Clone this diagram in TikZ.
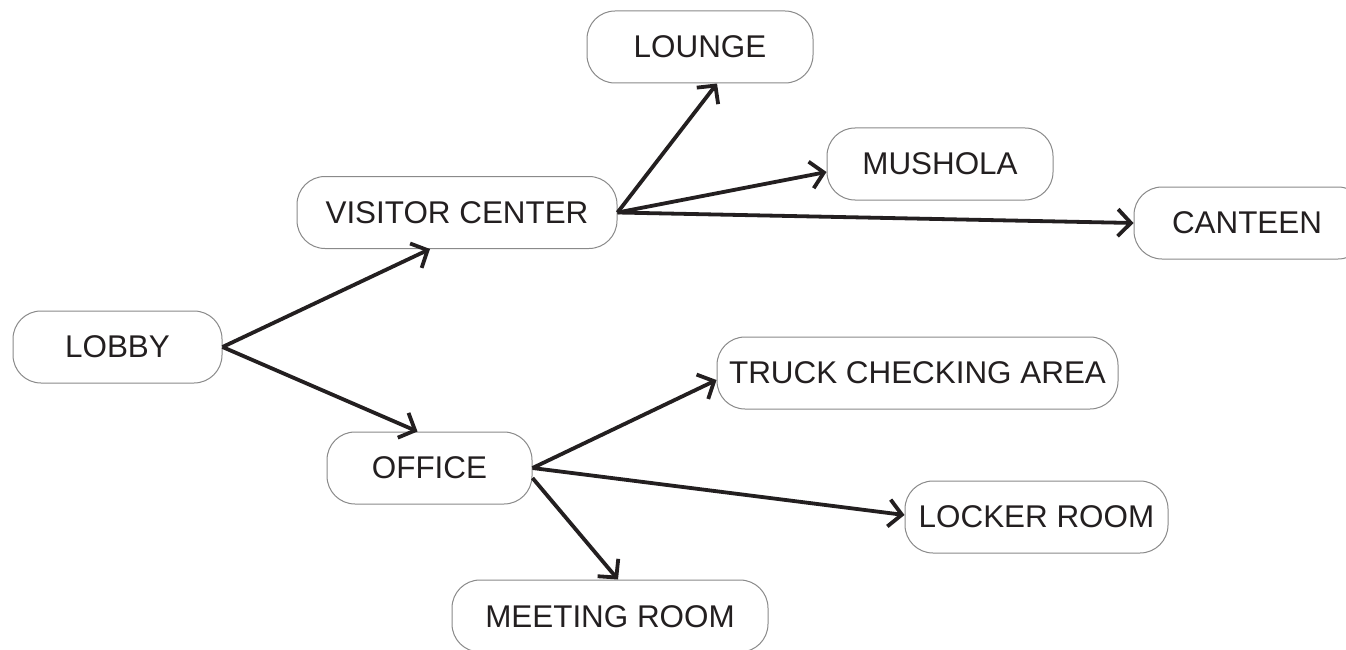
\documentclass[tikz,border=0pt]{standalone}
\usepackage{fontspec}
\setmainfont{Liberation Sans}
\usetikzlibrary{arrows.meta}
\definecolor{ink}{HTML}{231F20}
\definecolor{edge}{HTML}{8A8A8A}
\begin{document}
\begin{tikzpicture}[x=1pt,y=-1pt,
  box/.style={draw=edge, line width=1pt, rounded corners=28pt, fill=white,
    text=ink, font=\fontsize{31.4}{36}\selectfont, inner sep=0pt, minimum height=72pt},
  link/.style={draw=ink, line width=3.8pt, -{Straight Barb[length=13pt,width=27pt,line width=3.8pt]}}]
\fill[white] (0,0) rectangle (1346,650);
\useasboundingbox (0,0) rectangle (1346,650);
\clip (0,0) rectangle (1346,650);
\node[box, minimum width=209pt] (lobby) at (117.5,347) {LOBBY};
\node[box, minimum width=320pt] (vc) at (457,212.5) {VISITOR CENTER};
\node[box, minimum width=226pt] (lounge) at (700,47) {LOUNGE};
\node[box, minimum width=226pt] (mushola) at (940,164) {MUSHOLA};
\node[box, minimum width=232pt, text width=212pt, align=left] (canteen) at (1250,223) {\hspace*{28pt}CANTEEN};
\node[box, minimum width=401pt] (truck) at (917.5,373) {TRUCK CHECKING AREA};
\node[box, minimum width=205pt] (office) at (429.5,468) {OFFICE};
\node[box, minimum width=263pt] (locker) at (1036.5,517) {LOCKER ROOM};
\node[box, minimum width=316pt, text depth=0pt] (meeting) at (610,616) {\raisebox{-2pt}{MEETING ROOM}};
\draw[link] (lobby.east) -- ([xshift=-27pt]vc.south);
\draw[link] (lobby.east) -- ([xshift=-12pt]office.north);
\draw[link] (vc.east) -- ([xshift=17pt]lounge.south);
\draw[link] (vc.east) -- ([yshift=-8pt]mushola.west);
\draw[link] (vc.east) -- (canteen.west);
\draw[link] (office.east) -- ([yshift=-7pt]truck.west);
\draw[link] (office.east) -- ([yshift=2pt]locker.west);
\draw[link] ([yshift=-10pt]office.east) -- ([xshift=8pt]meeting.north);
\end{tikzpicture}
\end{document}
